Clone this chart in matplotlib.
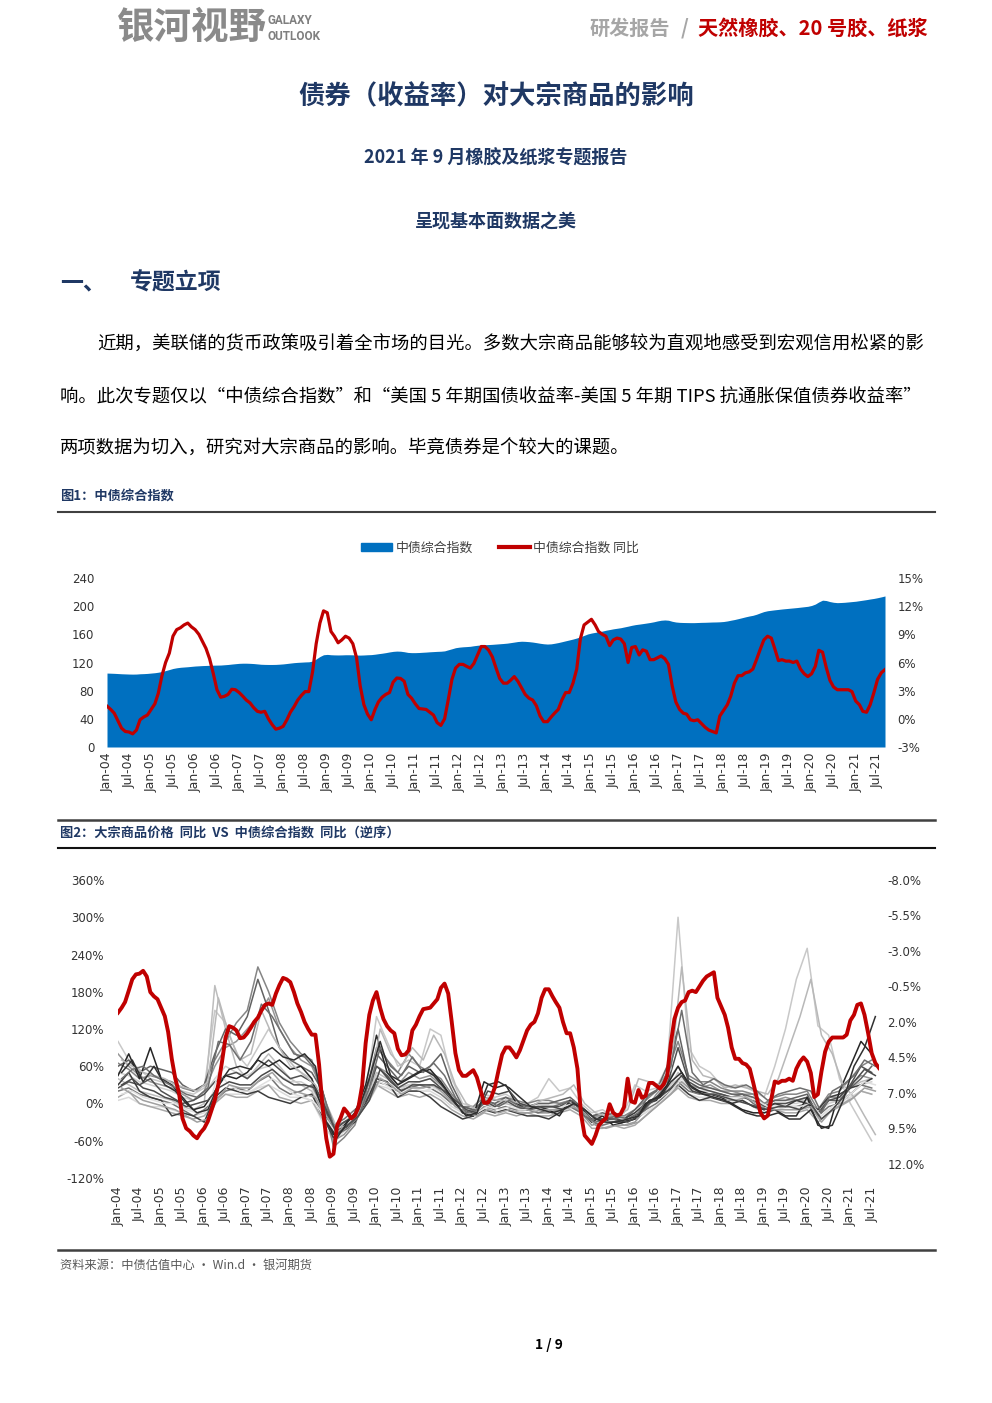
import matplotlib
matplotlib.use('Agg')
import matplotlib.pyplot as plt
import matplotlib.patches as mpatches
from matplotlib.lines import Line2D
import numpy as np
import pandas as pd

plt.rcParams['font.family'] = ['Noto Sans CJK SC', 'DejaVu Sans']

# ---------------- data ----------------
month_dates = pd.date_range('2004-01-01', '2021-09-01', freq='MS')
quarter_dates = pd.date_range('2004-01-01', '2021-07-01', freq='QS')        # Jan/Apr/Jul/Oct
quarter_dates_b = pd.date_range('2004-02-01', '2021-08-01', freq='QS-FEB')  # Feb/May/Aug/Nov
half_year_ticks = pd.date_range('2004-01-01', '2021-07-01', freq='6MS')
tick_labels = [d.strftime('%b-%y') for d in half_year_ticks]

# 中债综合指数 (monthly)
bond_index = [
    105.0, 104.8, 104.6, 104.3, 104.0, 103.8, 103.6, 103.5, 103.6, 104.0, 104.2, 104.5,
    105.0, 105.5, 106.2, 107.2, 108.5, 110.0, 111.5, 112.5, 113.2, 113.6, 114.0, 114.5,
    115.0, 115.3, 115.6, 115.8, 116.0, 116.2, 116.3, 116.4, 116.8, 117.2, 117.8, 118.3,
    118.8, 119.0, 119.0, 118.8, 118.5, 118.0, 117.5, 117.3, 117.2, 117.2, 117.3, 117.6,
    118.0, 118.6, 119.2, 119.8, 120.2, 120.5, 120.8, 121.0, 122.0, 125.0, 128.5, 131.0,
    131.5, 131.0, 130.8, 130.7, 130.8, 131.0, 131.0, 130.9, 130.6, 130.5, 130.7, 131.0,
    131.2, 131.8, 132.5, 133.2, 134.0, 135.0, 135.8, 136.2, 136.0, 135.3, 134.3, 134.0,
    134.0, 134.2, 134.5, 134.8, 135.2, 135.5, 135.8, 136.0, 136.5, 138.0, 139.5, 141.0,
    141.8, 142.3, 142.6, 143.0, 143.8, 144.5, 145.0, 145.3, 145.5, 145.8, 146.2, 146.6,
    147.0, 147.5, 148.2, 149.0, 149.8, 150.2, 150.0, 149.6, 149.0, 148.2, 147.3, 146.6,
    146.2, 146.5, 147.3, 148.3, 149.5, 150.8, 152.0, 153.3, 154.8, 156.5, 158.5, 160.5,
    161.8, 162.8, 163.5, 164.6, 165.8, 166.8, 167.8, 168.6, 169.4, 170.5, 171.6, 172.8,
    173.8, 174.5, 175.2, 176.0, 176.8, 177.8, 179.0, 180.0, 180.4, 180.0, 178.5, 177.5,
    177.0, 176.8, 176.7, 176.6, 176.6, 176.8, 177.0, 177.1, 177.3, 177.5, 177.6, 177.8,
    178.2, 179.0, 180.0, 181.0, 182.2, 183.5, 184.8, 186.0, 187.0, 188.5, 190.5, 192.3,
    193.5, 194.2, 194.8, 195.4, 196.0, 196.5, 197.0, 197.5, 198.0, 198.6, 199.2, 199.8,
    201.0, 203.0, 206.0, 208.5, 208.0, 206.5, 205.5, 205.0, 205.2, 205.5, 206.0, 206.5,
    207.0, 207.8, 208.5, 209.3, 210.2, 211.0, 212.0, 213.2, 214.5,
]

# 中债综合指数 同比 (%, monthly)
bond_yoy = [
    1.35, 1.0, 0.6, -0.2, -1.0, -1.35, -1.4, -1.6, -1.2, -0.1, 0.2, 0.4,
    1.0, 1.6, 2.7, 4.6, 6.0, 7.0, 8.8, 9.5, 9.7, 10.0, 10.2, 9.8,
    9.5, 9.0, 8.3, 7.5, 6.4, 4.8, 3.1, 2.3, 2.4, 2.6, 3.15, 3.1,
    2.8, 2.4, 2.0, 1.7, 1.2, 0.8, 0.7, 0.8, 0.0, -0.6, -1.1, -1.0,
    -0.8, -0.1, 0.7, 1.3, 2.0, 2.5, 2.9, 2.9, 5.0, 8.0, 10.2, 11.5,
    11.3, 9.3, 8.8, 8.1, 8.4, 8.8, 8.6, 8.0, 6.5, 3.5, 1.5, 0.5,
    -0.1, 1.0, 1.8, 2.3, 2.6, 2.8, 3.9, 4.35, 4.3, 4.0, 2.6, 2.2,
    1.6, 1.1, 1.05, 1.0, 0.7, 0.4, -0.4, -0.7, 0.0, 2.0, 4.2, 5.4,
    5.8, 5.8, 5.6, 5.4, 5.9, 6.8, 7.7, 7.7, 7.3, 6.6, 5.4, 4.3,
    3.8, 3.8, 4.1, 4.5, 4.0, 3.3, 2.6, 2.2, 2.0, 1.4, 0.3, -0.3,
    -0.3, 0.2, 0.6, 1.0, 2.0, 2.8, 2.8, 3.8, 5.3, 8.5, 10.0, 10.3,
    10.6, 10.0, 9.3, 9.0, 8.8, 7.8, 8.4, 8.6, 8.5, 8.0, 6.0, 7.6,
    7.7, 6.8, 7.35, 7.2, 6.3, 6.3, 6.5, 6.7, 6.4, 5.8, 3.5, 1.8,
    1.0, 0.6, 0.5, -0.1, -0.2, -0.1, -0.5, -0.9, -1.2, -1.35, -1.5, 0.3,
    0.9, 1.5, 2.4, 3.8, 4.6, 4.6, 4.9, 5.0, 5.3, 6.3, 7.4, 8.4,
    8.8, 8.6, 7.5, 6.2, 6.3, 6.15, 6.15, 6.0, 6.15, 5.3, 4.8, 4.5,
    4.8, 5.6, 7.3, 7.1, 5.5, 4.1, 3.4, 3.1, 3.1, 3.1, 3.1, 2.9,
    1.9, 1.5, 0.8, 0.7, 1.5, 2.8, 4.2, 4.9, 5.25,
]

# 大宗商品价格 同比 (%, quarterly Jan/Apr/Jul/Oct)
comm_01 = [45, 80, 40, 90, 40, 30, 10, -10, -5, 20, 45, 40, 50, 70, 60, 70, 55, 60, 40, -10,
           -50, -35, -15, 30, 110, 50, 30, 40, 50, 55, 35, 10, -15, -20, 35, 25, 30, 0, -10, -5,
           -10, -20, 5, -5, -30, -20, -35, -30, -25, 0, 5, 30, 60, 30, 20, 15, 10, 0, -10, -15,
           -15, -10, -20, -20, 10, -35, -40, 20, 60, 100, 80]
comm_02 = [30, 50, 20, 10, 5, -20, -15, -20, -30, 10, 25, 20, 15, 20, 10, 5, 0, 10, 15, -20,
           -55, -40, -30, 0, 40, 35, 10, 20, 20, 10, -5, -15, -25, -20, -10, -15, -10, -15, -20, -20,
           -25, -15, 0, -5, -20, -30, -30, -25, -15, 0, 10, 20, 30, 15, 5, 10, 5, 0, 5, -5,
           -10, 0, -5, 5, 0, -10, 10, 15, 25, 30, 40]
comm_03 = [60, 70, 50, 60, 55, 50, 30, 20, 30, 80, 120, 110, 140, 200, 150, 90, 70, 60, 50, 20,
           -40, -30, -20, 20, 80, 60, 40, 60, 50, 60, 80, 30, -5, -10, 5, 0, 10, 0, -5, 0,
           0, 5, 10, -5, -20, -15, -20, -25, -10, 10, 20, 60, 120, 40, 30, 25, 20, 15, 15, 10,
           -5, 5, 5, 10, 15, -20, 5, 5, 25, 40, 60]
comm_04 = [20, 25, 15, 10, 5, 0, -10, -20, -10, 5, 20, 25, 20, 35, 45, 25, 15, 20, 30, -5,
           -35, -25, -10, 5, 35, 30, 20, 25, 30, 25, 15, 0, -5, -10, 0, -10, -5, -10, -10, -15,
           -10, -10, -5, -15, -30, -35, -30, -30, -25, -10, 0, 15, 35, 20, 15, 15, 15, 10, 15, 0,
           -10, -5, -5, -5, 0, -20, -5, 0, 15, 30, 25]
comm_05 = [80, 60, 45, 35, 30, 25, 15, 5, 20, 60, 90, 100, 120, 140, 170, 120, 90, 70, 60, 20,
           -60, -50, -30, 20, 60, 50, 30, 50, 40, 45, 30, 10, -15, -20, -5, -10, -5, -10, -5, -15,
           -15, -10, 0, -15, -35, -30, -25, -35, -30, -10, 15, 35, 60, 30, 25, 30, 20, 20, 15, 15,
           0, 5, 10, 5, 10, -20, 10, 10, 30, 45, 40]
comm_06 = [10, 20, 0, -5, -10, -15, -20, -25, -20, 0, 15, 10, 10, 20, 30, 10, 5, 0, 5, -25,
           -50, -40, -25, 0, 30, 20, 10, 15, 10, 15, 5, -10, -20, -25, -15, -20, -15, -20, -15, -20,
           -20, -15, -10, -20, -40, -40, -35, -40, -35, -20, -5, 10, 25, 10, 5, 5, 0, 0, 5, -5,
           -15, -10, -15, -15, -10, -30, -15, -5, 5, 20, 15]
comm_07 = [100, 70, 55, 40, 35, 30, 20, 15, 25, 150, 130, 80, 60, 90, 120, 90, 60, 50, 40, 0,
           -40, -30, -20, 15, 140, 100, 60, 70, 60, 120, 110, 40, 0, -5, 15, 10, 15, 5, 0, 10,
           40, 20, 25, 0, -15, -10, -20, -15, 30, 20, 25, 60, 300, 90, 60, 50, 30, 25, 30, 20,
           10, 60, 120, 200, 250, 125, 110, 40, 0, -30, -60]
comm_08 = [40, 30, 20, 15, 10, 5, -5, -10, 0, 190, 120, 60, 40, 60, 80, 60, 40, 30, 20, -15,
           -45, -40, -25, 5, 50, 40, 25, 30, 25, 30, 20, 0, -10, -15, 0, -5, 0, -5, -5, 0,
           0, 0, 5, -10, -20, -25, -25, -20, -15, 0, 10, 20, 50, 30, 25, 25, 20, 15, 10, 10,
           0, 5, 5, 5, 5, -10, 10, 10, 25, 35, 40]
comm_09 = [50, 45, 35, 30, 25, 20, 10, 5, 15, 40, 60, 50, 45, 55, 60, 45, 35, 35, 25, -5,
           -35, -30, -15, 10, 45, 35, 20, 30, 35, 40, 30, 10, -5, -10, 5, 0, 5, 0, -5, -5,
           -5, -5, 0, -5, -20, -20, -20, -20, -20, -5, 5, 25, 40, 25, 20, 20, 15, 10, 10, 5,
           -5, 0, 0, 0, 5, -15, 0, 5, 15, 30, 35]
comm_10 = [25, 35, 30, 40, 20, 10, 0, 5, 15, 35, 45, 50, 40, 55, 70, 55, 40, 45, 35, 5,
           -45, -30, -20, 5, 60, 45, 25, 35, 35, 40, 25, 5, -10, -15, 5, -5, 5, -5, -10, -5,
           -5, -5, 5, -10, -25, -25, -20, -30, -20, -5, 10, 30, 90, 35, 25, 20, 15, 10, 10, 5,
           -5, 0, 0, 5, 10, -15, 5, 10, 30, 60, 50]
comm_11 = [5, 10, 0, -5, -5, -10, -15, -20, -15, 5, 15, 15, 15, 25, 30, 20, 10, 10, 5, -30,
           -60, -45, -25, 0, 30, 25, 15, 20, 20, 20, 10, -5, -15, -20, -5, -15, -10, -15, -10, -15,
           -15, -10, -5, -15, -30, -35, -30, -30, -25, -15, -5, 10, 30, 15, 10, 10, 10, 5, 5, -5,
           -10, -5, -10, -10, -5, -25, -10, -5, 10, 20, 15]
comm_12 = [65, 55, 40, 45, 40, 35, 25, 20, 30, 70, 100, 130, 150, 220, 180, 130, 100, 80, 70, 10,
           -70, -55, -35, 15, 90, 70, 50, 80, 60, 50, 40, 15, -5, -5, 10, 5, 10, 5, 0, 5,
           5, 0, 5, -5, -20, -20, -15, -20, -10, 5, 20, 50, 100, 45, 35, 35, 25, 20, 20, 15,
           0, 10, 15, 15, 20, -10, 15, 20, 40, 60, 70]

# 大宗商品价格 同比 (%, quarterly Feb/May/Aug/Nov)
comm_13 = [50, 70, 35, 60, 30, 20, 0, -15, -10, 30, 55, 60, 55, 80, 90, 75, 70, 80, 60, -30,
           -55, -30, -10, 40, 100, 45, 35, 45, 55, 45, 25, 0, -20, -15, 30, 35, 25, 10, -5, -10,
           -15, -10, 0, -10, -25, -30, -30, -25, -20, 5, 10, 35, 50, 25, 15, 10, 5, -5, -15, -20,
           -20, -15, -25, -25, -10, -40, -35, 5, 60, 90, 140]
comm_14 = [40, 55, 60, 45, 35, 25, 15, 10, 25, 100, 95, 70, 100, 160, 140, 110, 80, 75, 55, 0,
           -50, -40, -20, 25, 90, 60, 45, 75, 50, 65, 45, 10, -15, -10, 5, -5, 5, -5, -10, -5,
           -5, 0, 5, -20, -30, -25, -20, -25, -15, 15, 25, 60, 150, 50, 30, 40, 30, 25, 30, 20,
           5, 15, 20, 25, 20, -15, 20, 30, 45, 70, 60]
comm_15 = [25, 15, 5, 0, -5, -10, -20, -30, -25, 10, 30, 25, 25, 40, 50, 30, 20, 15, 10, -20,
           -45, -35, -20, 5, 40, 30, 15, 25, 25, 30, 15, -5, -15, -20, -10, -15, -10, -15, -15, -10,
           -10, -10, -5, -15, -35, -40, -35, -35, -30, -15, 0, 15, 35, 20, 15, 10, 5, 5, 10, 0,
           -10, -10, -10, -10, -5, -30, -10, 0, 10, 25, 20]
comm_16 = [70, 60, 50, 45, 40, 30, 25, 20, 35, 170, 110, 70, 80, 150, 110, 80, 60, 45, 30, 0,
           -40, -35, -15, 20, 120, 80, 60, 90, 70, 110, 80, 30, 0, -10, 10, 5, 5, 0, -5, 5,
           10, 15, 30, 0, -15, -20, -20, -10, 40, 35, 30, 55, 220, 70, 45, 40, 25, 30, 25, 20,
           15, 40, 90, 140, 200, 110, 80, 30, 10, -20, -50]
comm_17 = [15, 20, 10, 5, 0, 0, -10, -15, -10, 50, 30, 20, 20, 30, 40, 30, 15, 10, 0, -25,
           -50, -40, -20, 5, 35, 25, 20, 25, 20, 25, 15, -5, -10, -15, -5, -10, -5, -10, -10, -10,
           -10, -5, 0, -10, -25, -30, -25, -25, -20, -10, 0, 20, 40, 20, 15, 15, 10, 10, 10, 5,
           -5, -5, -5, -5, 0, -20, -5, 5, 20, 35, 30]
comm_18 = [30, 40, 25, 20, 10, 5, -5, 0, 5, 25, 35, 30, 30, 45, 55, 40, 30, 30, 25, -10,
           -50, -35, -20, 5, 55, 35, 20, 30, 30, 30, 20, 5, -10, -15, 20, 15, 20, 0, -5, -5,
           -5, -10, 0, -10, -25, -25, -25, -30, -20, 0, 10, 25, 45, 20, 15, 15, 10, 5, 0, -5,
           -10, -5, -5, -10, 0, -25, -10, 10, 35, 55, 45]

series_a = [comm_07, comm_11, comm_08, comm_09, comm_06, comm_05, comm_12,
            comm_04, comm_03, comm_10, comm_02, comm_01]
colors_a = ['#c8c8c8', '#dadada', '#bdbdbd', '#cfcfcf', '#a8a8a8', '#969696', '#858585',
            '#747474', '#626262', '#505050', '#3c3c3c', '#262626']
series_b = [comm_16, comm_17, comm_15, comm_14, comm_18, comm_13]
colors_b = ['#b8b8b8', '#e0e0e0', '#a0a0a0', '#6e6e6e', '#4a4a4a', '#303030']

# ---------------- page ----------------
W, H = 992, 1403
fig = plt.figure(figsize=(W / 100, H / 100), dpi=100)
NAVY = '#1f3864'
RED = '#c00000'
TICK = '#333333'


def fx(x):
    return x / W


def fy(y):
    return 1 - y / H


def put(x, y, s, **kw):
    kw.setdefault('va', 'center')
    fig.text(fx(x), fy(y), s, **kw)


def hline(y, x0, x1, lw, color):
    fig.add_artist(Line2D([fx(x0), fx(x1)], [fy(y), fy(y)], lw=lw, color=color,
                          transform=fig.transFigure))


def axes_px(l, t, r, b):
    return fig.add_axes([fx(l), fy(b), (r - l) / W, (b - t) / H])


# header
put(117, 27, '银河视野', fontsize=27, fontweight='bold', color='#8a8a8a', ha='left')
put(267, 21, 'GALAXY', fontsize=8.5, fontweight='bold', color='#7f7f7f', ha='left', family='Roboto')
put(267, 37, 'OUTLOOK', fontsize=8.5, fontweight='bold', color='#7f7f7f', ha='left', family='Roboto')
put(590, 28, '研发报告', fontsize=14.5, fontweight='bold', color='#a6a6a6', ha='left')
put(685, 28, '/', fontsize=14.5, fontweight='bold', color='#a6a6a6', ha='center')
put(928, 28, '天然橡胶、20 号胶、纸浆', fontsize=14.5, fontweight='bold', color=RED, ha='right')

# titles
put(496, 97, '债券（收益率）对大宗商品的影响', fontsize=19, fontweight='bold', color=NAVY, ha='center')
put(496, 158, '2021 年 9 月橡胶及纸浆专题报告', fontsize=13, fontweight='bold', color=NAVY, ha='center')
put(496, 221, '呈现基本面数据之美', fontsize=13, fontweight='bold', color=NAVY, ha='center')
put(60, 283, '一、', fontsize=16.5, fontweight='bold', color=NAVY, ha='left')
put(130, 283, '专题立项', fontsize=16.5, fontweight='bold', color=NAVY, ha='left')

# body
put(97, 345, '近期，美联储的货币政策吸引着全市场的目光。多数大宗商品能够较为直观地感受到宏观信用松紧的影',
    fontsize=13.2, color='black', ha='left')
put(60, 397, '响。此次专题仅以“中债综合指数”和“美国 5 年期国债收益率-美国 5 年期 TIPS 抗通胀保值债券收益率”',
    fontsize=13.2, color='black', ha='left')
put(60, 449, '两项数据为切入，研究对大宗商品的影响。毕竟债券是个较大的课题。',
    fontsize=13.2, color='black', ha='left')

# captions & rules
put(60, 497, '图1：中债综合指数', fontsize=9.5, fontweight='bold', color=NAVY, ha='left')
hline(512, 58, 935, 1.5, '#404040')
hline(820, 58, 935, 1.8, '#404040')
put(60, 834, '图2：大宗商品价格  同比  VS  中债综合指数  同比（逆序）', fontsize=9.5, fontweight='bold',
    color=NAVY, ha='left')
hline(848, 58, 935, 1.5, '#111111')
hline(1250, 58, 935, 1.8, '#404040')
put(60, 1265, '资料来源：中债估值中心 · Win.d · 银河期货', fontsize=8.8, color='#595959', ha='left')
put(549, 1345, '1 / 9', fontsize=10, fontweight='bold', color='black', ha='center')


def style_axes(ax):
    for s in ax.spines.values():
        s.set_visible(False)
    ax.tick_params(length=0, colors=TICK)


# ---------------- chart 1 ----------------
ax1 = axes_px(107, 578, 885, 747)
ax1.fill_between(month_dates, 0, bond_index, color='#0070c0', lw=0)
ax1.set_ylim(0, 240)
ax1.set_yticks(range(0, 241, 40))
ax1.set_yticklabels([str(v) for v in range(0, 241, 40)], family='DejaVu Sans', fontsize=8.5)
ax1.set_xlim(month_dates[0], month_dates[-1])
ax1.set_xticks(half_year_ticks)
ax1.set_xticklabels(tick_labels, rotation=90, family='DejaVu Sans', fontsize=9)
style_axes(ax1)
ax1.tick_params(axis='y', pad=9)
ax1.tick_params(axis='x', pad=4)

ax1b = ax1.twinx()
ax1b.plot(month_dates, bond_yoy, color=RED, lw=2.3)
ax1b.set_ylim(-3, 15)
ax1b.set_yticks(range(-3, 16, 3))
ax1b.set_yticklabels([f'{v}%' for v in range(-3, 16, 3)], family='DejaVu Sans', fontsize=8.5)
style_axes(ax1b)
ax1b.tick_params(axis='y', pad=9)

fig.legend(handles=[mpatches.Patch(color='#0070c0', label='中债综合指数'),
                    Line2D([], [], color=RED, lw=3, label='中债综合指数 同比')],
           loc='center', bbox_to_anchor=(fx(500), fy(548)), ncol=2, frameon=False,
           fontsize=9.3, labelcolor='#404040', handlelength=2.4, handleheight=0.55,
           columnspacing=2.0, handletextpad=0.3)

# ---------------- chart 2 ----------------
ax2 = axes_px(118, 880, 879, 1178)
for series, col in zip(series_a, colors_a):
    ax2.plot(quarter_dates, series, color=col, lw=1.1)
for series, col in zip(series_b, colors_b):
    ax2.plot(quarter_dates_b, series, color=col, lw=1.1)
ax2.set_ylim(-120, 360)
ax2.set_yticks(range(-120, 361, 60))
ax2.set_yticklabels([f'{v}%' for v in range(-120, 361, 60)], family='DejaVu Sans', fontsize=8.5)
ax2.set_xlim(month_dates[0], month_dates[-1])
ax2.set_xticks(half_year_ticks)
ax2.set_xticklabels(tick_labels, rotation=90, family='DejaVu Sans', fontsize=9)
style_axes(ax2)
ax2.tick_params(axis='y', pad=10)
ax2.tick_params(axis='x', pad=6)

ax2b = ax2.twinx()
ax2b.plot(month_dates, bond_yoy, color=RED, lw=2.8)
ax2b.set_ylim(13, -8)
rticks = np.arange(-8, 12.01, 2.5)
ax2b.set_yticks(rticks)
ax2b.set_yticklabels([f'{v:.1f}%' for v in rticks], family='DejaVu Sans', fontsize=8.5)
style_axes(ax2b)
ax2b.tick_params(axis='y', pad=6)

fig.savefig('out.png', dpi=100)
